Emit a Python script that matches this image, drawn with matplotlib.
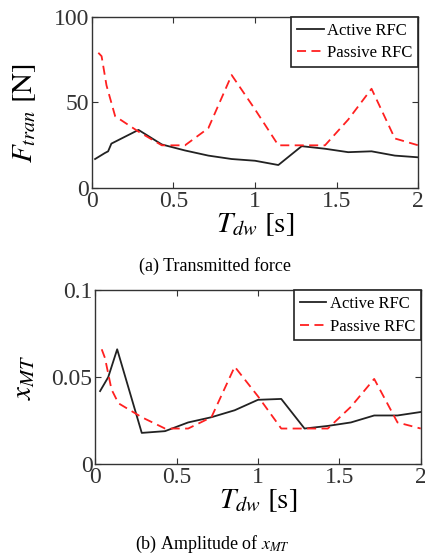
import matplotlib
matplotlib.use('Agg')
import matplotlib.pyplot as plt

plt.rcParams['font.family'] = ['Liberation Serif', 'DejaVu Serif']
plt.rcParams['mathtext.fontset'] = 'stix'

# === DATA ===
# (a) transmitted force
t_act_a = [0.02, 0.08, 0.10, 0.12, 0.286, 0.429, 0.571, 0.714, 0.857, 1.0, 1.143, 1.286, 1.429, 1.571, 1.714, 1.857, 2.0]
f_act = [17, 20.5, 21.5, 26, 34, 25.5, 22, 19, 17, 16, 13.5, 24.5, 23, 21, 21.5, 19, 18]
t_pas_a = [0.04, 0.06, 0.09, 0.143, 0.286, 0.429, 0.571, 0.714, 0.857, 1.0, 1.143, 1.286, 1.429, 1.571, 1.714, 1.857, 2.0]
f_pas = [79, 77, 60, 42, 33, 25, 25, 35, 66, 46, 25, 25, 25, 40, 58, 29, 25]

# (b) amplitude of x_MT
t_act_b = [0.03, 0.08, 0.135, 0.286, 0.429, 0.571, 0.714, 0.857, 1.0, 1.143, 1.286, 1.429, 1.571, 1.714, 1.857, 2.0]
x_act = [0.042, 0.050, 0.066, 0.018, 0.019, 0.024, 0.027, 0.031, 0.037, 0.0375, 0.0205, 0.022, 0.024, 0.028, 0.028, 0.030]
t_pas_b = [0.04, 0.06, 0.10, 0.143, 0.286, 0.429, 0.571, 0.714, 0.857, 1.0, 1.143, 1.286, 1.429, 1.571, 1.714, 1.857, 2.0]
x_pas = [0.066, 0.061, 0.043, 0.035, 0.027, 0.0205, 0.0205, 0.027, 0.056, 0.039, 0.0205, 0.0205, 0.0205, 0.033, 0.049, 0.024, 0.0205]

fig = plt.figure(figsize=(4.25, 5.6), dpi=100)
ax1 = fig.add_axes([0.216, 0.664, 0.768, 0.306])
ax2 = fig.add_axes([0.224, 0.171, 0.766, 0.311])

RED = '#ff2020'


def style(ax):
    ax.set_xlim(0, 2)
    ax.set_xticks([0, 0.5, 1, 1.5, 2])
    ax.set_xticklabels(['0', '0.5', '1', '1.5', '2'])
    ax.tick_params(direction='in', top=True, right=True, labelsize=17, length=4, pad=2,
                   colors='#333333')
    for s in ax.spines.values():
        s.set_linewidth(1.0)
        s.set_color('#333333')
    ax.set_xlabel(r'$T_{dw}\ \mathrm{[s]}$', fontsize=21, labelpad=0)
    leg = ax.legend(loc='upper right', fontsize=12, borderaxespad=0, fancybox=False,
                    framealpha=1, edgecolor='#222222', handlelength=1.6, borderpad=0.35,
                    labelspacing=0.4, handletextpad=0.2)
    leg.get_frame().set_linewidth(1.2)


ax1.plot(t_act_a, f_act, color='#222222', lw=1.3, label='Active RFC')
ax1.plot(t_pas_a, f_pas, color=RED, lw=1.3, ls=(0, (5, 3)), label='Passive RFC')
ax1.set_ylim(0, 100)
ax1.set_yticks([0, 50, 100])
style(ax1)
ax1.set_ylabel(r'$F_{tran}\ \mathrm{[N]}$', fontsize=21)
ax1.yaxis.set_label_coords(-0.165, 0.44)

ax2.plot(t_act_b, x_act, color='#222222', lw=1.3, label='Active RFC')
ax2.plot(t_pas_b, x_pas, color=RED, lw=1.3, ls=(0, (5, 3)), label='Passive RFC')
ax2.set_ylim(0, 0.1)
ax2.set_yticks([0, 0.05, 0.1])
ax2.set_yticklabels(['0', '0.05', '0.1'])
style(ax2)
ax2.set_ylabel(r'$x_{MT}$', fontsize=21)
ax2.yaxis.set_label_coords(-0.18, 0.5)

fig.text(0.506, 1 - 266 / 560, '(a) Transmitted force', ha='center', va='center', fontsize=13)
fig.text(0.5, 1 - 544 / 560, r'(b) Amplitude of $x_{MT}$', ha='center', va='center', fontsize=13)

fig.savefig('out.png', dpi=100)
